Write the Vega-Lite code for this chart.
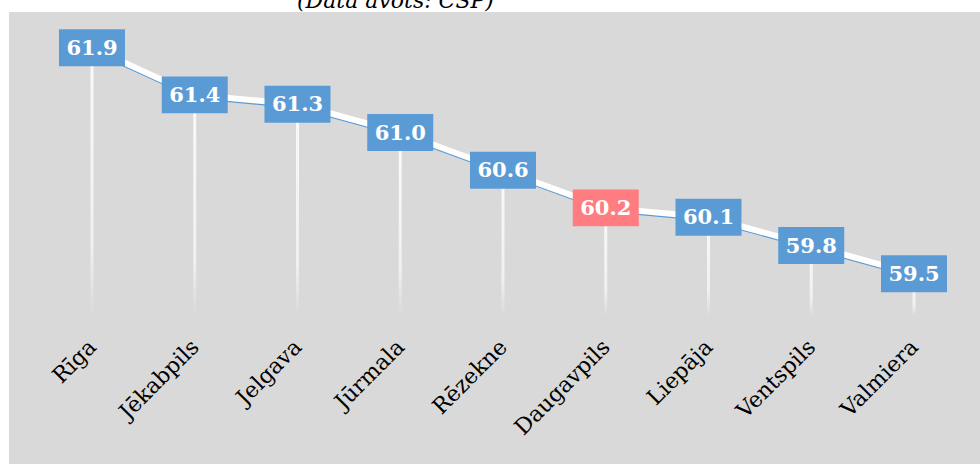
{
  "$schema": "https://vega.github.io/schema/vega-lite/v6.json",
  "autosize": "none",
  "width": 971,
  "height": 452,
  "padding": {"left": 9, "top": 12, "right": 0, "bottom": 0},
  "background": "white",
  "title": {
    "text": "(Data avots: CSP)",
    "font": "DejaVu Serif",
    "fontStyle": "italic",
    "fontWeight": "normal",
    "fontSize": 22,
    "color": "#000000",
    "anchor": "start",
    "frame": "group",
    "dx": 288,
    "baseline": "alphabetic",
    "offset": -18
  },
  "config": {
    "view": {"fill": "#d9d9d9", "stroke": null}
  },
  "data": {
    "values": [
      {"city": "Rīga", "value": 61.9, "highlight": "no"},
      {"city": "Jēkabpils", "value": 61.4, "highlight": "no"},
      {"city": "Jelgava", "value": 61.3, "highlight": "no"},
      {"city": "Jūrmala", "value": 61.0, "highlight": "no"},
      {"city": "Rēzekne", "value": 60.6, "highlight": "no"},
      {"city": "Daugavpils", "value": 60.2, "highlight": "yes"},
      {"city": "Liepāja", "value": 60.1, "highlight": "no"},
      {"city": "Ventspils", "value": 59.8, "highlight": "no"},
      {"city": "Valmiera", "value": 59.5, "highlight": "no"}
    ]
  },
  "encoding": {
    "x": {
      "field": "city",
      "type": "nominal",
      "sort": null,
      "scale": {"type": "point", "padding": 0.725, "align": 0.557},
      "axis": {
        "title": null,
        "orient": "bottom",
        "offset": -149,
        "domain": false,
        "ticks": false,
        "grid": false,
        "labelAngle": -45,
        "labelAlign": "right",
        "labelBaseline": "middle",
        "labelPadding": 28,
        "labelFont": "DejaVu Serif",
        "labelFontSize": 22,
        "labelColor": "#000000"
      }
    },
    "y": {
      "field": "value",
      "type": "quantitative",
      "scale": {"domain": [57.48, 62.28], "nice": false, "zero": false},
      "axis": null
    }
  },
  "layer": [
    {
      "mark": {
        "type": "bar",
        "size": 3,
        "color": {
          "gradient": "linear",
          "x1": 0, "y1": 0, "x2": 0, "y2": 1,
          "stops": [
            {"offset": 0, "color": "#fafafa"},
            {"offset": 0.75, "color": "#f0f0f0"},
            {"offset": 1, "color": "#d9d9d9"}
          ]
        }
      },
      "encoding": {"y2": {"datum": 59.05}}
    },
    {
      "mark": {"type": "line", "color": "#5b9bd5", "strokeWidth": 2.5, "yOffset": 3}
    },
    {
      "mark": {"type": "line", "color": "#ffffff", "strokeWidth": 6}
    },
    {
      "mark": {
        "type": "point",
        "filled": true,
        "opacity": 1,
        "size": 4356,
        "shape": "M-1,-0.56L1,-0.56L1,0.56L-1,0.56Z",
        "strokeWidth": 0
      },
      "encoding": {
        "color": {
          "field": "highlight",
          "type": "nominal",
          "scale": {"domain": ["no", "yes"], "range": ["#5b9bd5", "#ff7c80"]},
          "legend": null
        }
      }
    },
    {
      "mark": {
        "type": "text",
        "font": "DejaVu Serif",
        "fontWeight": "bold",
        "fontSize": 21,
        "color": "#ffffff",
        "baseline": "middle",
        "align": "center",
        "dy": 1
      },
      "encoding": {
        "text": {"field": "value", "type": "quantitative", "format": ".1f"}
      }
    }
  ]
}
